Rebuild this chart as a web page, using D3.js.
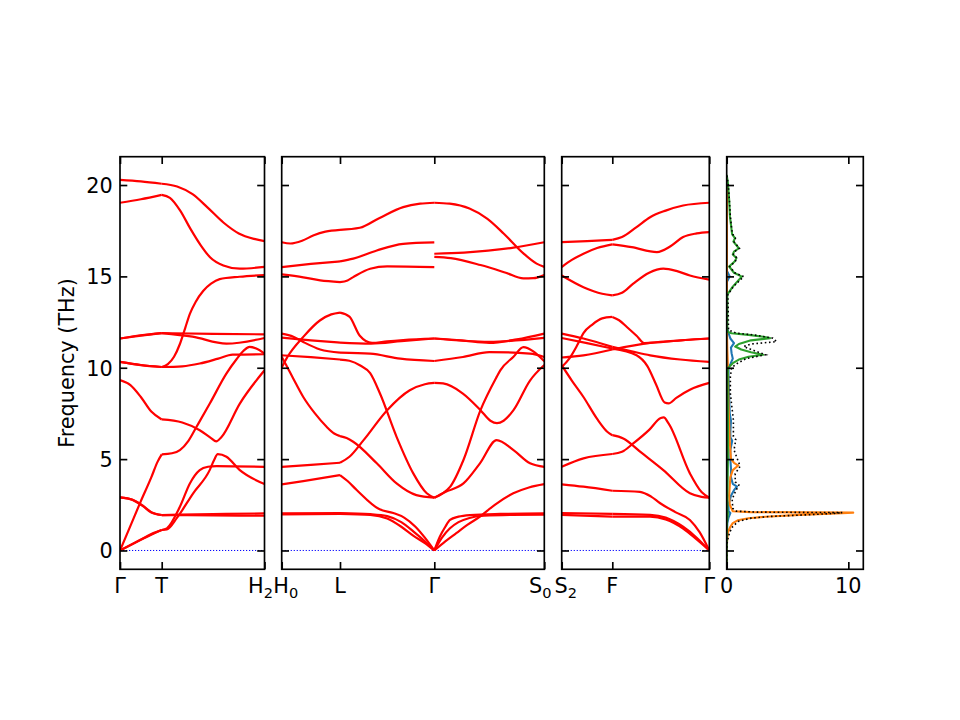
<!DOCTYPE html>
<html><head><meta charset="utf-8">
<script src="https://cdn.jsdelivr.net/npm/d3@7"></script>
<style>body{margin:0;background:#fff} svg{display:block} text{font-family:"DejaVu Sans",sans-serif;fill:#000}</style>
</head><body><svg id="c" width="960" height="720"></svg>
<script>
// ---------------- DATA ----------------
// k-path segments (lengths, arbitrary units)
const segmentNames = ["Γ-T","T-H_2","H_0-L","L-Γ","Γ-S_0","S_2-F","F-Γ"];
const segmentLengths = [41.7, 102.8, 58.3, 94.3, 110, 50.6, 97];
const segmentPanel = [0, 0, 1, 1, 1, 2, 2];
const panelTickLabels = [["Γ","T","H_2"],["H_0","L","Γ","S_0"],["S_2","F","Γ"]];
const freqTicks = [0, 5, 10, 15, 20];
const freqDomain = [-1.03, 21.55];
const dosTicks = [0, 10];
const dosDomain = [0, 11.23];

// bands per segment: [fraction along segment, frequency THz]
const bandsGammaT = [
  [[0,20.28],[0.5,20.2],[1,20.07]],
  [[0,19.03],[0.5,19.22],[1,19.46]],
  [[0,11.6],[0.5,11.78],[1,11.9]],
  [[0,11.6],[0.5,11.76],[1,11.9]],
  [[0,10.32],[0.5,10.15],[1,10.04]],
  [[0,10.32],[0.5,10.14],[1,10.04]],
  [[0,9.33],[0.25,9.05],[0.5,8.4],[0.75,7.6],[1,7.17]],
  [[0,0],[0.25,1.35],[0.5,2.7],[0.75,4.0],[0.9,4.85],[1,5.26]],
  [[0,2.91],[0.3,2.78],[0.55,2.45],[0.75,2.1],[1,1.94]],
  [[0,2.91],[0.3,2.77],[0.55,2.43],[0.75,2.08],[1,1.94]],
  [[0,0],[0.5,0.6],[0.8,0.95],[1,1.12]],
  [[0,0],[0.5,0.58],[0.8,0.92],[1,1.12]]
];
const bandsTH2 = [
  [[0,20.07],[0.15,19.92],[0.3,19.5],[0.45,18.75],[0.6,17.95],[0.75,17.35],[0.9,17.05],[1,16.93]],
  [[0,19.46],[0.08,19.3],[0.18,18.6],[0.28,17.6],[0.38,16.7],[0.47,16.05],[0.6,15.6],[0.76,15.42],[1,15.52]],
  [[0,11.9],[0.5,11.85],[1,11.83]],
  [[0,11.9],[0.3,11.7],[0.63,11.32],[1,11.63]],
  [[0,10.04],[0.06,10.2],[0.12,10.6],[0.177,11.3],[0.23,12.2],[0.274,12.95],[0.33,13.6],[0.403,14.2],[0.48,14.6],[0.564,14.85],[0.757,14.98],[1,15.07]],
  [[0,10.04],[0.2,10.08],[0.37,10.23],[0.55,10.5],[0.69,10.72],[1,10.74]],
  [[0,7.17],[0.2,7.0],[0.37,6.58],[0.48,6.15],[0.53,5.97],[0.58,6.2],[0.76,8.04],[1,9.86]],
  [[0,5.26],[0.1,5.32],[0.177,5.49],[0.26,6.0],[0.339,6.77],[0.468,8.04],[0.629,9.68],[0.726,10.45],[0.8,10.95],[0.855,11.14],[0.92,11.05],[1,10.77]],
  [[0,1.94],[0.5,1.99],[1,2.03]],
  [[0,1.94],[0.5,1.92],[1,1.9]],
  [[0,1.12],[0.05,1.21],[0.177,2.39],[0.274,3.67],[0.37,4.4],[0.45,4.58],[0.532,4.62],[1,4.58]],
  [[0,1.12],[0.05,1.15],[0.15,1.8],[0.306,3.13],[0.468,4.41],[0.51,4.95],[0.545,5.27],[0.63,5.13],[0.757,4.41],[1,3.64]]
];
const bandsH0L = [
  [[0,16.87],[0.15,16.8],[0.35,16.95],[0.55,17.25],[0.75,17.45],[1,17.55]],
  [[0,15.51],[0.5,15.68],[1,15.82]],
  [[0,15.11],[0.37,14.95],[0.66,14.78],[1,14.69]],
  [[0,11.87],[0.2,11.7],[0.37,11.41],[0.66,11.0],[1,10.83]],
  [[0,11.65],[0.5,11.5],[1,11.38]],
  [[0,10.68],[0.5,10.58],[1,10.45]],
  [[0,10.6],[0.06,10.25],[0.2,9.4],[0.37,8.4],[0.57,7.5],[0.77,6.77],[0.9,6.4],[1,6.26]],
  [[0,10.0],[0.1,10.6],[0.37,11.69],[0.66,12.6],[0.85,12.92],[1,13.02]],
  [[0,4.58],[0.5,4.68],[1,4.8]],
  [[0,3.62],[0.37,3.8],[1,4.13]],
  [[0,2.03],[1,2.05]],
  [[0,1.97],[1,2.0]]
];
const bandsLGamma = [
  [[0,17.55],[0.21,17.66],[0.42,18.2],[0.67,18.79],[0.85,18.98],[1,19.03]],
  [[0,15.82],[0.14,15.97],[0.39,16.42],[0.67,16.78],[1,16.86]],
  [[0,14.69],[0.08,14.78],[0.14,14.96],[0.32,15.42],[0.5,15.55],[1,15.51]],
  [[0,10.83],[0.32,10.77],[0.64,10.5],[1,10.37]],
  [[0,11.38],[0.33,11.32],[0.65,11.45],[1,11.6]],
  [[0,13.02],[0.1,12.8],[0.21,11.75],[0.34,11.36],[0.5,11.45],[0.67,11.52],[1,11.6]],
  [[0,10.45],[0.1,10.38],[0.21,10.14],[0.32,9.7],[0.424,8.59],[0.6,6.22],[0.777,4.22],[0.92,3.13],[1,2.89]],
  [[0,6.26],[0.07,6.15],[0.14,5.95],[0.39,4.77],[0.6,3.67],[0.81,3.03],[1,2.89]],
  [[0,4.8],[0.1,5.13],[0.25,6.04],[0.5,7.68],[0.74,8.77],[0.9,9.1],[1,9.17]],
  [[0,4.13],[0.08,3.8],[0.177,3.31],[0.42,2.25],[0.565,2.05],[0.68,1.8],[0.8,1.3],[0.9,0.7],[1,0]],
  [[0,2.05],[0.32,1.99],[0.5,1.88],[0.65,1.55],[0.78,1.03],[0.9,0.5],[1,0]],
  [[0,2.0],[0.32,1.95],[0.5,1.75],[0.65,1.3],[0.78,0.8],[0.9,0.4],[1,0]]
];
const bandsGammaS0 = [
  [[0,19.03],[0.14,18.98],[0.32,18.71],[0.48,18.16],[0.63,17.35],[0.81,16.26],[0.93,15.7],[1,15.52]],
  [[0,16.24],[0.27,16.3],[0.72,16.57],[1,16.87]],
  [[0,16.07],[0.15,16.0],[0.42,15.62],[0.65,15.2],[0.81,14.89],[0.9,14.9],[1,15.07]],
  [[0,11.6],[0.25,11.5],[0.5,11.36],[0.75,11.55],[1,11.87]],
  [[0,11.6],[0.5,11.42],[1,11.63]],
  [[0,10.37],[0.26,10.59],[0.5,10.86],[0.87,10.77],[1,10.59]],
  [[0,9.17],[0.08,9.14],[0.26,8.59],[0.42,7.68],[0.51,7.1],[0.57,6.97],[0.63,7.1],[0.72,7.68],[0.87,9.3],[1,10.15]],
  [[0,2.89],[0.07,3.1],[0.145,3.49],[0.265,4.95],[0.42,7.68],[0.567,9.5],[0.6,9.86],[0.72,10.6],[0.81,11.13],[0.9,10.9],[1,10.35]],
  [[0,2.89],[0.1,3.2],[0.265,3.67],[0.415,4.77],[0.567,6.04],[0.72,5.49],[0.87,4.77],[1,4.58]],
  [[0,0],[0.05,0.75],[0.1,1.3],[0.143,1.67],[0.22,1.85],[0.325,1.94],[0.6,2.0],[1,2.03]],
  [[0,0],[0.07,0.7],[0.14,1.2],[0.22,1.55],[0.32,1.78],[0.45,1.9],[0.7,1.95],[1,1.96]],
  [[0,0],[0.1,0.5],[0.2,0.95],[0.3,1.4],[0.415,1.85],[0.55,2.5],[0.718,3.13],[0.86,3.45],[1,3.63]]
];
const bandsS2F = [
  [[0,16.87],[0.5,16.93],[1,17.0]],
  [[0,15.51],[0.2,15.9],[0.43,16.24],[0.7,16.55],[1,16.75]],
  [[0,15.05],[0.43,14.41],[0.8,14.05],[1,13.96]],
  [[0,11.87],[0.43,11.6],[1,11.14]],
  [[0,11.63],[0.5,11.35],[1,11.05]],
  [[0,10.56],[0.43,10.68],[1,11.0]],
  [[0,10.04],[0.15,10.5],[0.3,11.2],[0.43,11.9],[0.6,12.35],[0.8,12.7],[1,12.78]],
  [[0,10.14],[0.2,9.3],[0.43,8.4],[0.7,7.2],[0.9,6.5],[1,6.31]],
  [[0,4.58],[0.43,5.04],[1,5.28]],
  [[0,3.62],[0.43,3.49],[1,3.27]],
  [[0,2.05],[1,2.0]],
  [[0,1.95],[1,1.85]]
];
const bandsFGamma = [
  [[0,17.0],[0.1,17.15],[0.25,17.7],[0.39,18.24],[0.55,18.6],[0.73,18.88],[1,19.03]],
  [[0,16.75],[0.2,16.6],[0.46,16.33],[0.6,16.65],[0.73,17.15],[0.87,17.35],[1,17.42]],
  [[0,13.96],[0.1,14.1],[0.216,14.6],[0.38,15.2],[0.526,15.42],[0.66,15.3],[0.8,15.05],[1,14.82]],
  [[0,11.14],[0.2,10.9],[0.39,10.68],[0.7,10.45],[1,10.32]],
  [[0,11.0],[0.39,11.36],[0.7,11.5],[1,11.6]],
  [[0,12.78],[0.07,12.6],[0.15,12.23],[0.25,11.75],[0.33,11.35],[0.5,11.4],[0.75,11.52],[1,11.6]],
  [[0,11.05],[0.25,10.68],[0.36,10.1],[0.45,9.1],[0.54,8.1],[0.58,8.05],[0.66,8.35],[0.8,8.8],[1,9.17]],
  [[0,6.31],[0.113,6.13],[0.3,5.35],[0.526,4.4],[0.8,3.13],[0.92,2.93],[1,2.89]],
  [[0,5.28],[0.1,5.4],[0.216,5.86],[0.38,6.6],[0.5,7.25],[0.53,7.28],[0.58,6.95],[0.8,4.22],[0.92,3.2],[1,2.89]],
  [[0,3.27],[0.285,3.21],[0.4,2.95],[0.49,2.6],[0.65,2.1],[0.8,1.67],[0.9,1.0],[1,0]],
  [[0,2.0],[0.39,1.95],[0.55,1.8],[0.73,1.3],[0.87,0.7],[1,0]],
  [[0,1.85],[0.39,1.85],[0.55,1.7],[0.73,1.2],[0.87,0.6],[1,0]]
];
const segmentBands = [bandsGammaT, bandsTH2, bandsH0L, bandsLGamma, bandsGammaS0, bandsS2F, bandsFGamma];

// phonon DOS: [frequency THz, DOS]
const dosBlue = [[-1,0],[0,0],[1.0,0.03],[1.5,0.05],[1.8,0.15],[2.05,0.3],[2.15,0.15],[2.5,0.15],[3.0,0.35],[3.3,0.6],[3.5,0.85],[3.65,0.5],[4.0,0.35],[4.5,0.35],[5.0,0.3],[5.5,0.3],[6.0,0.45],[6.2,0.3],[6.5,0.3],[7.1,0.35],[7.5,0.25],[8.5,0.2],[9.5,0.15],[10.0,0.15],[10.2,0.3],[10.5,0.5],[10.8,0.4],[11.1,0.35],[11.35,0.6],[11.6,0.3],[11.9,0.15],[12.2,0.02],[14.7,0.02],[15.0,0.25],[15.3,0.02],[20.5,0]];
const dosOrange = [[-1,0],[0,0],[0.5,0.03],[1.0,0.1],[1.3,0.3],[1.5,0.5],[1.65,0.9],[1.76,1.8],[1.85,3.2],[1.95,6.0],[2.02,9.0],[2.07,10.4],[2.1,2.0],[2.15,0.5],[2.5,0.25],[3.0,0.2],[3.5,0.25],[4.0,0.3],[4.4,0.5],[4.65,0.95],[4.8,0.6],[5.0,0.35],[5.5,0.3],[6.0,0.25],[7,0.2],[8,0.15],[9,0.12],[10,0.1],[11,0.05],[12,0.02],[16,0.02],[20,0.02],[20.5,0]];
const dosGreen = [[-1,0],[0,0],[1.5,0.02],[2.05,0.1],[2.2,0.05],[3,0.05],[4,0.08],[5,0.1],[7,0.1],[9,0.08],[9.98,0.1],[10.25,0.5],[10.45,1.0],[10.6,1.8],[10.71,3.0],[10.85,2.0],[11.0,1.2],[11.16,0.7],[11.3,1.0],[11.5,2.0],[11.62,3.56],[11.7,3.0],[11.8,1.8],[11.89,0.4],[11.95,0.1],[12.1,0.05],[14.0,0.05],[14.44,0.5],[14.99,1.25],[15.2,0.6],[15.54,0.2],[15.81,0.65],[16.0,0.8],[16.2,0.5],[16.36,0.6],[16.54,1.0],[16.9,0.55],[17.09,0.68],[17.3,0.45],[17.54,0.4],[18.27,0.27],[19.2,0.2],[20.1,0.1],[20.55,0]];
const dosTotal = [[-1,0],[0,0],[0.5,0.05],[0.77,0.15],[1.0,0.25],[1.31,0.5],[1.5,0.8],[1.59,0.95],[1.77,2.0],[1.86,3.5],[1.95,6.5],[2.02,8.6],[2.07,9.5],[2.1,2.5],[2.15,0.8],[2.3,0.5],[2.8,0.45],[3.2,0.7],[3.59,1.0],[3.75,0.7],[4.2,0.7],[4.6,1.1],[4.8,1.0],[5.14,0.8],[5.5,0.6],[6.06,0.75],[6.24,0.55],[7.15,0.55],[8.0,0.4],[8.61,0.3],[9.5,0.3],[10.0,0.4],[10.25,0.9],[10.5,1.6],[10.71,3.2],[10.9,2.4],[11.16,1.4],[11.3,2.0],[11.43,4.1],[11.62,3.8],[11.8,2.2],[11.89,0.8],[12.07,0.15],[14.0,0.1],[14.44,0.55],[14.99,1.4],[15.2,0.65],[15.54,0.25],[15.81,0.7],[16.0,0.85],[16.2,0.55],[16.36,0.65],[16.54,1.05],[16.9,0.6],[17.09,0.72],[17.3,0.5],[17.54,0.42],[18.27,0.3],[19.2,0.22],[20.1,0.12],[20.55,0]];
const dosSeries = [
  {values: dosBlue, color: "#1f77b4"},
  {values: dosOrange, color: "#ff7f0e"},
  {values: dosGreen, color: "#2ca02c"}
];

// ---------------- LAYOUT ----------------
const svg = d3.select("#c");
const plotTop = 156.7, plotBottom = 569.3;
const panelX = [[120,264.5],[281.7,544.3],[561.7,709.3],[726.7,863.3]];
const FS = 20.8, TICK = 7.3, SPW = 1.67;
const y = d3.scaleLinear().domain(freqDomain).range([plotBottom, plotTop]);

const defs = svg.append("defs");
panelX.forEach((p,i) => {
  defs.append("clipPath").attr("id","clip"+i).append("rect")
    .attr("x",p[0]).attr("y",plotTop).attr("width",p[1]-p[0]).attr("height",plotBottom-plotTop);
});

function addLabel(g, x, yb, lab, anchor){
  const parts = lab.split("_");
  const t = g.append("text").attr("x",x).attr("y",yb).attr("text-anchor",anchor||"middle")
    .attr("font-size",FS).text(parts[0]);
  if (parts.length>1) t.append("tspan").attr("font-size",FS*0.7).attr("dy",5).text(parts[1]);
}

function yAxes(g, p, withLabels){
  const left = g.append("g").attr("transform",`translate(${p[0]},0)`)
    .call(d3.axisLeft(y).tickValues(freqTicks).tickSize(-TICK).tickSizeOuter(0).tickPadding(TICK)
      .tickFormat(withLabels ? d3.format("d") : ""));
  const right = g.append("g").attr("transform",`translate(${p[1]},0)`)
    .call(d3.axisRight(y).tickValues(freqTicks).tickSize(-TICK).tickSizeOuter(0).tickFormat(""));
  [left,right].forEach(a=>{
    a.select(".domain").remove();
    a.selectAll("line").attr("stroke","#000").attr("stroke-width",SPW);
    a.selectAll("text").attr("font-size",FS).attr("font-family","DejaVu Sans").attr("dy","0.36em").attr("fill","#000");
  });
}
function xTicks(g, xs, vals){
  const top = g.append("g").attr("transform",`translate(0,${plotTop})`)
    .call(d3.axisTop(xs).tickValues(vals).tickSize(-TICK).tickSizeOuter(0).tickFormat(""));
  const bot = g.append("g").attr("transform",`translate(0,${plotBottom})`)
    .call(d3.axisBottom(xs).tickValues(vals).tickSize(-TICK).tickSizeOuter(0).tickFormat(""));
  [top,bot].forEach(a=>{ a.select(".domain").remove(); a.selectAll("line").attr("stroke","#000").attr("stroke-width",SPW); });
}
function spine(g,p){
  g.append("rect").attr("x",p[0]).attr("y",plotTop).attr("width",p[1]-p[0]).attr("height",plotBottom-plotTop)
    .attr("fill","none").attr("stroke","#000").attr("stroke-width",SPW);
}

// ---------------- BAND PANELS ----------------
for (let pi=0; pi<3; pi++){
  const segs = segmentPanel.map((p,i)=>p===pi?i:-1).filter(i=>i>=0);
  const offsets = []; let acc = 0;
  segs.forEach(s=>{ offsets.push(acc); acc += segmentLengths[s]; });
  const tickPos = [...offsets, acc];
  const p = panelX[pi];
  const x = d3.scaleLinear().domain([0,acc]).range(p);
  const g = svg.append("g");
  const plot = g.append("g").attr("clip-path",`url(#clip${pi})`);
  plot.append("line").attr("x1",x(0)).attr("x2",x(acc)).attr("y1",y(0)).attr("y2",y(0))
    .attr("stroke","#0000ff").attr("stroke-width",1).attr("stroke-dasharray","1.2,1.8");
  const line = d3.line().curve(d3.curveMonotoneX);
  segs.forEach((s,j)=>{
    const o = offsets[j], L = segmentLengths[s];
    segmentBands[s].forEach(b=>{
      plot.append("path")
        .attr("d", line.x(d=>x(o + d[0]*L)).y(d=>y(d[1]))(b))
        .attr("fill","none").attr("stroke","#ff0000").attr("stroke-width",2.2)
        .attr("stroke-linejoin","round").attr("stroke-linecap","butt");
    });
  });
  yAxes(g, p, pi===0);
  xTicks(g, x, tickPos);
  spine(g,p);
  const n = panelTickLabels[pi].length;
  panelTickLabels[pi].forEach((lab,k)=>{
    // labels at the panel joins sit very close together: nudge them apart slightly
    let dx = 0;
    if (pi<2 && k===n-1) dx = -4;
    if (pi>0 && k===0) dx = 4;
    addLabel(g, x(tickPos[k]) + dx, 593, lab);
  });
}

// ---------------- DOS PANEL ----------------
{
  const p = panelX[3];
  const xd = d3.scaleLinear().domain(dosDomain).range(p);
  const g = svg.append("g");
  const plot = g.append("g").attr("clip-path","url(#clip3)");
  const dl = d3.line().x(d=>xd(d[1])).y(d=>y(d[0]));
  dosSeries.forEach(s=>{
    plot.append("path").attr("d",dl(s.values)).attr("fill","none").attr("stroke",s.color)
      .attr("stroke-width",2.1).attr("stroke-linejoin","round");
  });
  plot.append("path").attr("d",dl(dosTotal)).attr("fill","none").attr("stroke","#000")
    .attr("stroke-width",1.6).attr("stroke-dasharray","1.6,2.6");
  yAxes(g, p, false);
  xTicks(g, xd, dosTicks);
  spine(g,p);
  dosTicks.forEach(v=> addLabel(g, xd(v), 593, String(v)));
}

// y label
svg.append("text").attr("transform","translate(73.5,363) rotate(-90)").attr("text-anchor","middle")
  .attr("font-size",FS).text("Frequency (THz)");
</script></body></html>
